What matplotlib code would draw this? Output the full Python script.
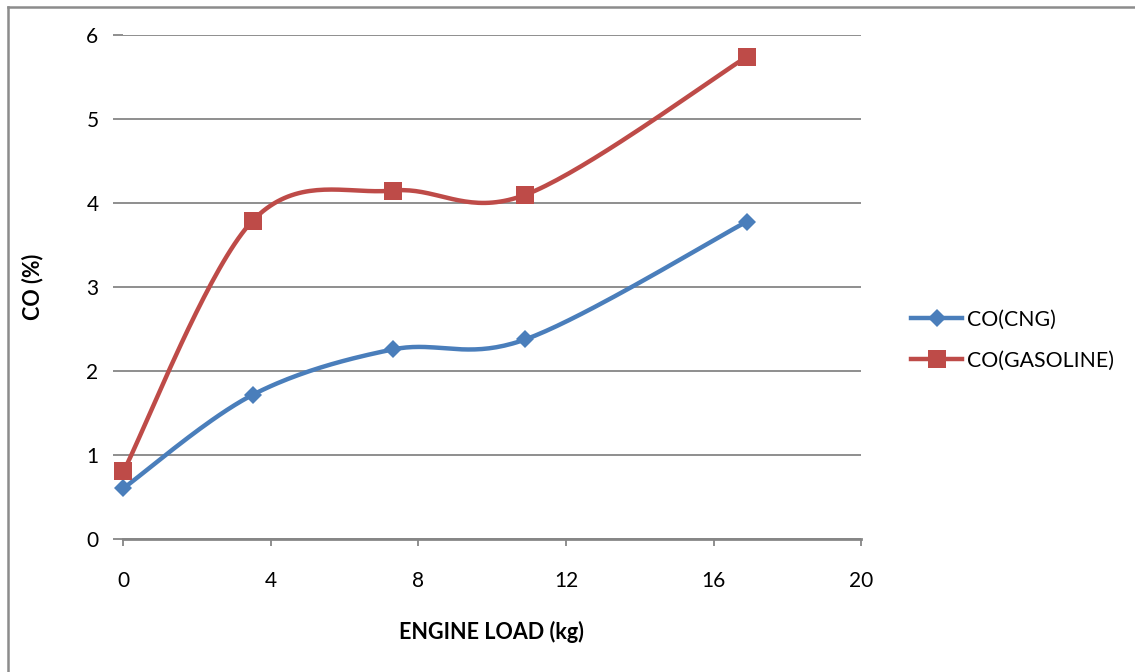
import numpy as np
import matplotlib
matplotlib.use("Agg")
import matplotlib.pyplot as plt
from matplotlib.lines import Line2D

# Engine load (kg) and CO emissions (%)
engine_load = [0.0, 3.5, 7.3, 10.9, 16.9]
co_cng = [0.61, 1.72, 2.26, 2.38, 3.78]
co_gasoline = [0.81, 3.79, 4.15, 4.10, 5.74]
series_names = ["CO(CNG)", "CO(GASOLINE)"]
x_ticks = [0, 4, 8, 12, 16, 20]
y_ticks = [0, 1, 2, 3, 4, 5, 6]

BLUE = "#4a7ebb"
RED = "#be4b48"
GRID = "#868686"
FONT = ["Lato", "DejaVu Sans"]


def smooth(xs, ys, n=40):
    """Catmull-Rom style Bezier smoothing through every point."""
    p = np.column_stack([xs, ys]).astype(float)
    ext = np.vstack([p[0], p, p[-1]])
    out = []
    t = np.linspace(0, 1, n)[:, None]
    for i in range(1, len(ext) - 2):
        p0, p1, p2, p3 = ext[i - 1], ext[i], ext[i + 1], ext[i + 2]
        c1 = p1 + (p2 - p0) / 6.0
        c2 = p2 - (p3 - p1) / 6.0
        seg = ((1 - t) ** 3) * p1 + 3 * ((1 - t) ** 2) * t * c1 \
            + 3 * (1 - t) * t ** 2 * c2 + t ** 3 * p2
        out.append(seg if i == 1 else seg[1:])
    seg = np.vstack(out)
    return seg[:, 0], seg[:, 1]


fig = plt.figure(figsize=(11.35, 6.72), dpi=100)
ax = fig.add_axes([0.1088, 0.1972, 0.6498, 0.7507])

for ys, color, marker, ms, name in [
    (co_cng, BLUE, "D", 9.5, series_names[0]),
    (co_gasoline, RED, "s", 13, series_names[1]),
]:
    sx, sy = smooth(engine_load, ys)
    ax.plot(sx, sy, color=color, lw=3.2, solid_capstyle="round", zorder=3,
            clip_on=False)
    ax.plot(engine_load, ys, linestyle="none", marker=marker, ms=ms,
            color=color, markeredgewidth=0, zorder=4, clip_on=False)

ax.set_xlim(0, 20)
ax.set_ylim(0, 6)
ax.set_xticks(x_ticks)
ax.set_yticks(y_ticks)
ax.yaxis.grid(True, color=GRID, lw=1.3)
ax.set_axisbelow(True)
for s in ["top", "right", "left"]:
    ax.spines[s].set_visible(False)
ax.spines["bottom"].set_color(GRID)
ax.spines["bottom"].set_linewidth(2)
ax.tick_params(axis="x", length=5, width=1.3, color=GRID, pad=18,
               labelsize=15)
ax.tick_params(axis="y", length=7, width=1.3, color=GRID, pad=11,
               labelsize=15)
for lab in ax.get_xticklabels() + ax.get_yticklabels():
    lab.set_family(FONT)

fig.text(491 / 1135, 1 - 632 / 672, "ENGINE LOAD (kg)", ha="center",
         va="center", fontsize=15.5, fontweight="bold", family=FONT)
fig.text(33 / 1135, 1 - 287 / 672, "CO (%)", ha="center", va="center",
         rotation=90, fontsize=15.5, fontweight="bold", family=FONT)

handles = [
    Line2D([], [], color=BLUE, lw=3.2, marker="D", ms=9.5, markeredgewidth=0),
    Line2D([], [], color=RED, lw=3.2, marker="s", ms=13, markeredgewidth=0),
]
leg = fig.legend(handles, series_names, loc="center left",
                 bbox_to_anchor=(892 / 1135, 1 - 340 / 672), frameon=False,
                 handlelength=2.4, handletextpad=0.25, labelspacing=1.0,
                 prop={"family": FONT, "size": 15.3})

# outer chart border (left and top edges)
fig.add_artist(Line2D([7.5 / 1135, 7.5 / 1135], [0, 1 - 6.5 / 672],
                      transform=fig.transFigure, color="#8c8c8c", lw=1.8))
fig.add_artist(Line2D([7.5 / 1135, 1], [1 - 6.5 / 672, 1 - 6.5 / 672],
                      transform=fig.transFigure, color="#8c8c8c", lw=1.8))

fig.savefig("out.png", dpi=100, facecolor="white")
